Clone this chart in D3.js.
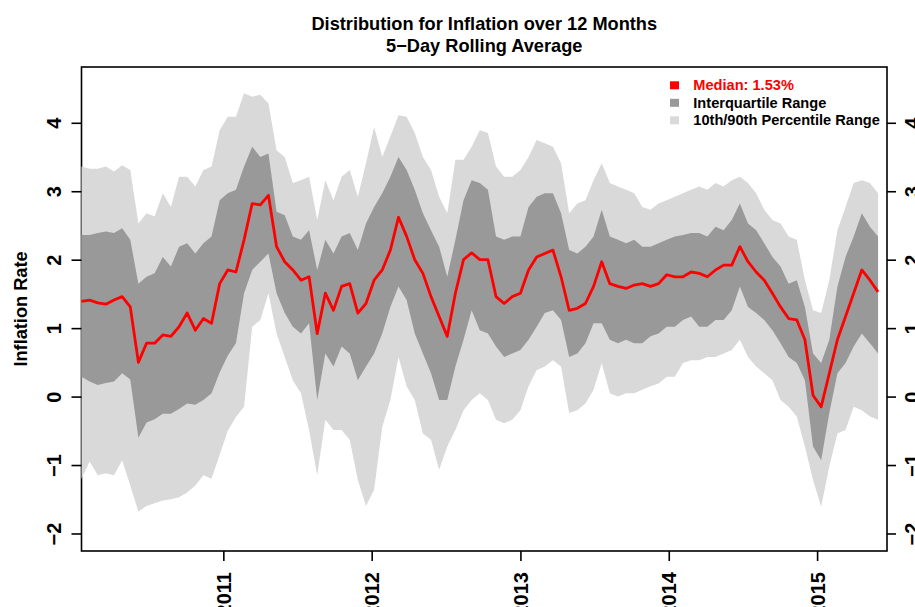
<!DOCTYPE html>
<html>
<head>
<meta charset="utf-8">
<script src="https://cdn.jsdelivr.net/npm/d3@7"></script>
<style>
    body { margin: 0; background: #fff; }
    svg { display: block; font-family: "Liberation Sans", Arial, sans-serif; }
</style>
</head>
<body>
<div id="chart"></div>
<script>
// one reading every 20 days, starting mid January 2010
const startDate = new Date(2010, 0, 17);
const stepDays = 20;

const p90 = [3.36, 3.33, 3.33, 3.36, 3.29, 3.38, 3.31, 2.53, 2.68, 2.63,
    2.97, 2.77, 3.21, 3.21, 3.07, 3.31, 3.36, 3.89, 4.09, 4.09,
    4.43, 4.38, 4.41, 4.28, 3.60, 3.50, 3.12, 3.16, 3.21, 2.58,
    3.16, 2.87, 3.21, 3.31, 2.92, 3.41, 3.94, 3.50, 3.80, 4.11,
    4.09, 3.85, 3.50, 3.31, 2.92, 2.68, 3.46, 3.46, 3.65, 3.89,
    3.85, 3.36, 3.21, 3.21, 3.31, 3.50, 3.75, 3.70, 3.65, 3.41,
    2.68, 2.82, 2.87, 3.16, 3.41, 3.12, 3.07, 3.02, 2.97, 2.77,
    2.73, 2.82, 2.87, 2.92, 2.97, 3.02, 3.07, 3.02, 3.12, 3.07,
    3.16, 3.21, 3.12, 2.97, 2.73, 2.58, 2.53, 2.34, 2.29, 1.70,
    1.26, 1.22, 1.70, 2.43, 2.77, 3.12, 3.16, 3.12, 2.97];

const p75 = [2.36, 2.36, 2.39, 2.41, 2.39, 2.46, 2.29, 1.65, 1.75, 1.80,
    2.04, 1.90, 2.19, 2.24, 2.09, 2.24, 2.34, 2.87, 2.97, 3.02,
    3.36, 3.65, 3.50, 3.55, 2.70, 2.65, 2.34, 2.29, 2.43, 1.85,
    2.29, 2.09, 2.34, 2.39, 2.14, 2.53, 2.77, 2.97, 3.21, 3.50,
    3.31, 3.02, 2.68, 2.43, 2.19, 1.75, 2.29, 2.87, 3.16, 3.12,
    3.02, 2.34, 2.29, 2.34, 2.34, 2.77, 2.92, 2.97, 2.97, 2.68,
    2.14, 2.09, 2.19, 2.34, 2.73, 2.34, 2.29, 2.24, 2.29, 2.19,
    2.19, 2.24, 2.29, 2.34, 2.36, 2.39, 2.39, 2.34, 2.48, 2.43,
    2.58, 2.82, 2.53, 2.43, 2.24, 2.04, 1.90, 1.65, 1.70, 1.31,
    0.63, 0.49, 0.83, 1.61, 2.04, 2.34, 2.68, 2.48, 2.34];

const median = [1.39, 1.41, 1.37, 1.35, 1.41, 1.46, 1.31, 0.50, 0.78, 0.78,
    0.90, 0.88, 1.02, 1.22, 0.97, 1.14, 1.07, 1.65, 1.85, 1.82,
    2.29, 2.82, 2.80, 2.94, 2.19, 1.97, 1.85, 1.70, 1.75, 0.92,
    1.51, 1.26, 1.61, 1.65, 1.22, 1.36, 1.70, 1.85, 2.14, 2.62,
    2.34, 2.00, 1.80, 1.46, 1.17, 0.88, 1.51, 2.00, 2.10, 2.00,
    2.00, 1.46, 1.36, 1.46, 1.51, 1.85, 2.04, 2.09, 2.14, 1.75,
    1.26, 1.29, 1.36, 1.61, 1.97, 1.65, 1.61, 1.58, 1.63, 1.65,
    1.61, 1.65, 1.78, 1.75, 1.75, 1.82, 1.80, 1.75, 1.85, 1.92,
    1.92, 2.19, 1.97, 1.82, 1.70, 1.51, 1.31, 1.14, 1.12, 0.83,
    0.02, -0.15, 0.34, 0.83, 1.17, 1.51, 1.85, 1.70, 1.53];

const p25 = [0.29, 0.22, 0.17, 0.20, 0.22, 0.34, 0.25, -0.60, -0.38, -0.33,
    -0.25, -0.25, -0.18, -0.10, -0.12, -0.05, 0.05, 0.35, 0.60, 0.78,
    1.51, 1.85, 1.97, 2.09, 1.51, 1.22, 1.02, 0.92, 1.07, -0.05,
    0.63, 0.44, 0.73, 0.63, 0.24, 0.44, 0.63, 0.92, 1.31, 1.61,
    1.41, 0.92, 0.63, 0.34, -0.05, -0.05, 0.44, 0.83, 1.26, 0.97,
    0.92, 0.73, 0.58, 0.63, 0.68, 0.83, 1.02, 1.22, 1.26, 1.12,
    0.58, 0.63, 0.78, 1.07, 1.07, 0.83, 0.78, 0.83, 0.78, 0.78,
    0.88, 0.92, 1.02, 1.02, 1.12, 1.17, 1.02, 1.02, 1.12, 1.12,
    1.26, 1.61, 1.31, 1.22, 1.12, 0.97, 0.78, 0.58, 0.49, 0.24,
    -0.73, -0.93, -0.24, 0.34, 0.49, 0.73, 0.92, 0.78, 0.63];

const p10 = [-1.20, -0.95, -1.15, -1.12, -1.15, -0.93, -1.30, -1.68, -1.60, -1.56,
    -1.52, -1.50, -1.47, -1.40, -1.30, -1.15, -1.20, -0.85, -0.50, -0.30,
    -0.15, 1.02, 1.12, 1.51, 0.92, 0.58, 0.24, 0.05, -0.49, -1.15,
    -0.34, -0.49, -0.49, -0.63, -1.22, -1.60, -1.36, -0.44, -0.05, 0.58,
    0.15, -0.05, -0.54, -0.63, -1.07, -0.73, -0.49, -0.20, -0.05, 0.05,
    -0.05, -0.34, -0.39, -0.34, -0.20, 0.15, 0.39, 0.44, 0.53, 0.44,
    -0.24, -0.20, -0.10, 0.10, 0.49, 0.05, 0.00, 0.05, 0.05, 0.10,
    0.15, 0.19, 0.29, 0.29, 0.49, 0.53, 0.53, 0.58, 0.58, 0.63,
    0.68, 0.83, 0.58, 0.44, 0.34, 0.24, -0.05, -0.15, -0.29, -0.73,
    -1.22, -1.61, -1.02, -0.54, -0.49, -0.15, -0.20, -0.29, -0.34];

const yTicks = [-2, -1, 0, 1, 2, 3, 4];
const yearTicks = [2011, 2012, 2013, 2014, 2015];

const titleLines = ["Distribution for Inflation over 12 Months", "5\u2212Day Rolling Average"];
const yLabel = "Inflation Rate";

const colors = { median: "#ff0000", iqr: "#999999", outer: "#d9d9d9" };

const width = 915, height = 607;
const margin = { top: 67, right: 28, bottom: 56, left: 81.5 };
const plotW = width - margin.left - margin.right;
const plotH = height - margin.top - margin.bottom;

const rows = median.map((m, i) => ({
    date: d3.timeDay.offset(startDate, i * stepDays),
    p10: p10[i], p25: p25[i], med: m, p75: p75[i], p90: p90[i]
}));

const svg = d3.select("#chart").append("svg")
    .attr("width", width)
    .attr("height", height);

const x = d3.scaleTime()
    .domain([new Date(2010, 0, 17), new Date(2015, 5, 22)])
    .range([0, plotW]);

const y = d3.scaleLinear()
    .domain([-2.256, 4.815])
    .range([plotH, 0]);

const chart = svg.append("g")
    .attr("transform", `translate(${margin.left},${margin.top})`);

// box first, bands are painted over it like in the original
chart.append("rect")
    .attr("width", plotW)
    .attr("height", plotH)
    .attr("fill", "none")
    .attr("stroke", "#000")
    .attr("stroke-width", 1.6);

const band = (lo, hi) => d3.area()
    .x(d => x(d.date))
    .y0(d => y(d[lo]))
    .y1(d => y(d[hi]));

chart.append("path")
    .datum(rows)
    .attr("fill", colors.outer)
    .attr("d", band("p10", "p90"));

chart.append("path")
    .datum(rows)
    .attr("fill", colors.iqr)
    .attr("d", band("p25", "p75"));

chart.append("path")
    .datum(rows)
    .attr("fill", "none")
    .attr("stroke", colors.median)
    .attr("stroke-width", 2.8)
    .attr("stroke-linejoin", "round")
    .attr("d", d3.line().x(d => x(d.date)).y(d => y(d.med)));

// axes
const styleAxis = g => {
    g.attr("font-family", null)
        .attr("font-size", 20)
        .attr("font-weight", "bold");
    g.select(".domain").remove();
    g.selectAll(".tick line").attr("stroke-width", 1.6);
    g.selectAll(".tick text").attr("fill", "#000").attr("dy", null);
};

chart.append("g")
    .call(d3.axisLeft(y).tickValues(yTicks).tickSize(10).tickFormat(d3.format("d")))
    .call(styleAxis)
    .call(g => g.selectAll(".tick text")
        .attr("transform", "rotate(-90)")
        .attr("x", 0)
        .attr("y", -20.3)
        .attr("text-anchor", "middle"));

chart.append("g")
    .attr("transform", `translate(${plotW},0)`)
    .call(d3.axisRight(y).tickValues(yTicks).tickSize(9).tickFormat(d3.format("d")))
    .call(styleAxis)
    .call(g => g.selectAll(".tick text")
        .attr("transform", "rotate(-90)")
        .attr("x", 0)
        .attr("y", 32.3)
        .attr("text-anchor", "middle"));

chart.append("g")
    .attr("transform", `translate(0,${plotH})`)
    .call(d3.axisBottom(x)
        .tickValues(yearTicks.map(yr => new Date(yr, 0, 1)))
        .tickFormat(d3.timeFormat("%Y"))
        .tickSize(10))
    .call(styleAxis)
    .call(g => g.selectAll(".tick text")
        .attr("transform", "rotate(-90)")
        .attr("x", -21)
        .attr("y", 7.2)
        .attr("text-anchor", "end"));

// titles
svg.append("g")
    .selectAll("text")
    .data(titleLines)
    .join("text")
    .attr("x", margin.left + plotW / 2)
    .attr("y", (d, i) => 29.8 + i * 22)
    .attr("text-anchor", "middle")
    .attr("font-size", 18.2)
    .attr("font-weight", "bold")
    .text(d => d);

svg.append("text")
    .attr("transform", `translate(26.7,${margin.top + plotH / 2}) rotate(-90)`)
    .attr("text-anchor", "middle")
    .attr("font-size", 18.2)
    .attr("font-weight", "bold")
    .text(yLabel);

// legend
const legendItems = [
    { label: `Median: ${d3.format(".2f")(median[median.length - 1])}%`, fill: colors.median, text: colors.median },
    { label: "Interquartile Range", fill: colors.iqr, text: "#000" },
    { label: "10th/90th Percentile Range", fill: colors.outer, text: "#000" }
];

const legend = svg.append("g")
    .attr("transform", "translate(674.5,85.3)");

const item = legend.selectAll("g")
    .data(legendItems)
    .join("g")
    .attr("transform", (d, i) => `translate(0,${i * 17.5})`);

item.append("rect")
    .attr("x", -4.5)
    .attr("y", -4)
    .attr("width", 9)
    .attr("height", 8)
    .attr("fill", d => d.fill);

item.append("text")
    .attr("x", 18.8)
    .attr("dy", "0.35em")
    .attr("font-size", 14.6)
    .attr("font-weight", "bold")
    .attr("fill", d => d.text)
    .text(d => d.label);
</script>
</body>
</html>
